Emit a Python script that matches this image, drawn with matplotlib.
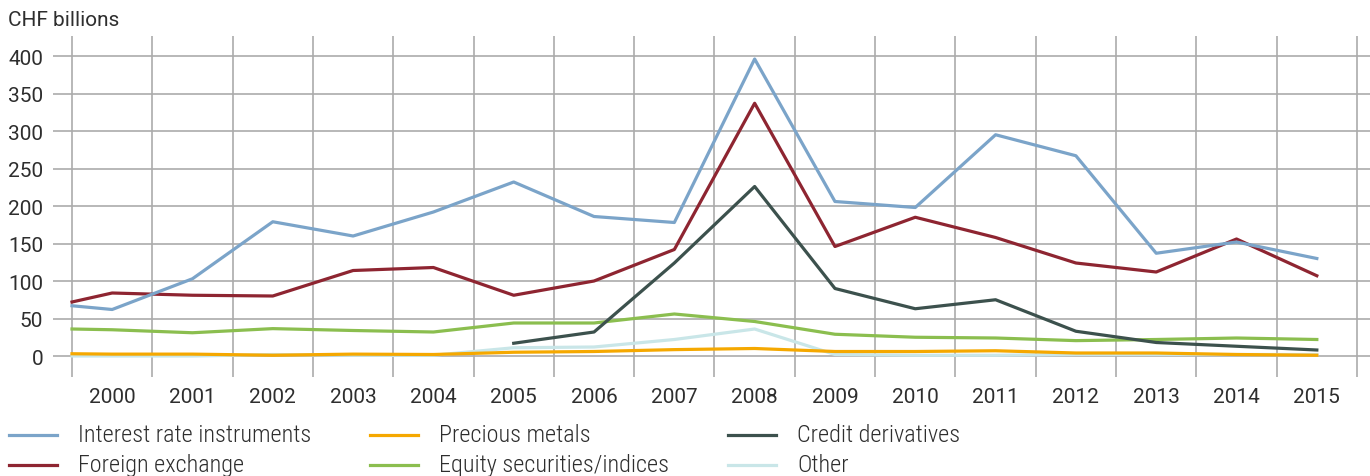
import matplotlib.pyplot as plt
from matplotlib.lines import Line2D

# Replacement values by year, CHF billions (first point is the 1999 closing value)
years = [str(y) for y in range(2000, 2016)]
x_pos = [-0.5] + list(range(16))

interest_rate = [67, 62, 103, 179, 160, 192, 232, 186, 178, 396, 206, 198, 295, 267, 137, 152, 130]
foreign_exchange = [72, 84, 81, 80, 114, 118, 81, 100, 142, 337, 146, 185, 158, 124, 112, 156, 107]
precious_metals = [3, 2.5, 2.5, 1, 2.5, 2, 5, 6, 8.5, 10, 6, 6, 7, 4, 4, 2, 1]
equity = [36, 35, 31, 36.5, 34, 32, 44, 44, 56, 46, 29, 25, 24, 20.5, 22, 24, 22]
credit_x = list(range(5, 16))
credit_derivatives = [17, 32, 124, 226, 90, 63, 75, 33, 18, 13, 8]
other = [0, 0, 0, 2, 1, 1, 11, 12, 22, 36, 2, 1, 1, 2, 2, 2, 2]

c_interest = '#7BA4C9'
c_fx = '#8E2531'
c_precious = '#F5A800'
c_equity = '#8BBE4F'
c_credit = '#3C514D'
c_other = '#C9E6E8'
grid_c = '#ABABAB'
text_c = '#2E2E2E'

plt.rcParams['font.family'] = ['Roboto', 'DejaVu Sans']

fig = plt.figure(figsize=(13.7, 4.77), dpi=100)
ax = fig.add_axes([53 / 1370, 99 / 477, 1 - 53 / 1370, 341 / 477])

ax.set_xlim(-0.7366, 15.662)
ax.set_ylim(-28, 426.67)

for xv in [i - 0.5 for i in range(17)]:
    ax.axvline(xv, color=grid_c, lw=1.2, zorder=1)
for yv in range(0, 401, 50):
    ax.axhline(yv, color=grid_c, lw=1.2, zorder=1)

lw = 2.3
ax.plot(x_pos, other, color=c_other, lw=lw, zorder=3)
ax.plot(x_pos, precious_metals, color=c_precious, lw=lw, zorder=4)
ax.plot(x_pos, equity, color=c_equity, lw=lw, zorder=5)
ax.plot(credit_x, credit_derivatives, color=c_credit, lw=lw, zorder=6)
ax.plot(x_pos, foreign_exchange, color=c_fx, lw=lw, zorder=7)
ax.plot(x_pos, interest_rate, color=c_interest, lw=lw, zorder=8)

for s in ax.spines.values():
    s.set_visible(False)

ax.set_yticks(range(0, 401, 50))
ax.set_yticklabels([str(v) for v in range(0, 401, 50)])
ax.set_xticks(range(16))
ax.set_xticklabels(years)
ax.tick_params(axis='both', length=0, labelsize=15, labelcolor=text_c)
ax.tick_params(axis='y', pad=7)
ax.tick_params(axis='x', pad=7)

fig.text(8 / 1370, 1 - 20 / 477, 'CHF billions', fontsize=15, color=text_c,
         va='center', ha='left')

# legend, laid out on a fixed three-column grid
entries = [
    ('Interest rate instruments', c_interest, 9, 436),
    ('Foreign exchange', c_fx, 9, 466),
    ('Precious metals', c_precious, 370, 436),
    ('Equity securities/indices', c_equity, 370, 466),
    ('Credit derivatives', c_credit, 728, 436),
    ('Other', c_other, 728, 466),
]
for label, col, x0, y0 in entries:
    yf = 1 - y0 / 477
    fig.add_artist(Line2D([x0 / 1370, (x0 + 48) / 1370], [yf, yf], color=col, lw=2.3))
    fig.text((x0 + 69) / 1370, yf, label, fontsize=17.5,
             family=['Roboto Condensed', 'DejaVu Sans'], fontweight='light',
             color=text_c, va='center', ha='left')

fig.savefig('out.png', dpi=100)
